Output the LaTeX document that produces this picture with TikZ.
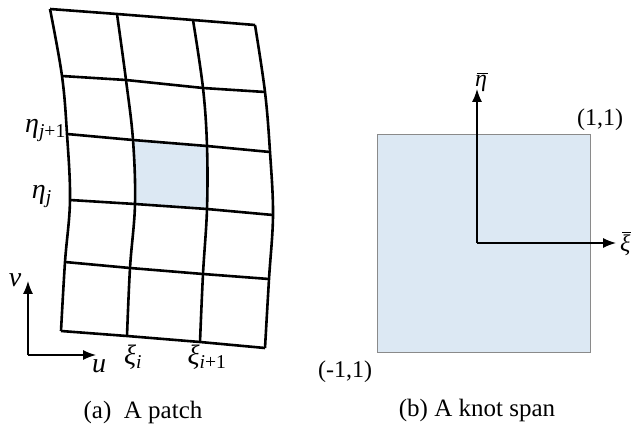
\documentclass[tikz,border=0pt]{standalone}
\usepackage{fontspec}
\setmainfont{Liberation Serif}
\usetikzlibrary{arrows.meta}
\definecolor{cellblue}{HTML}{DCE8F3}
\definecolor{edgegray}{HTML}{8A8A8A}
\tikzset{
  patchline/.style={line width=2.6pt, black, line join=round},
  axisarrow/.style={line width=1.4pt, black, -{Latex[length=13pt,width=10pt]}},
  barline/.style={line width=1pt, black},
  lbl/.style={font=\fontsize{24}{28}\selectfont, inner sep=0pt},
  mlbl/.style={font=\fontsize{28}{32}\selectfont, inner sep=0pt},
  captext/.style={font=\fontsize{25}{29}\selectfont, inner sep=0pt},
}
\newcommand\gi[1]{{\itshape #1}}
\begin{document}
\begin{tikzpicture}[x=1pt,y=-1pt]
\useasboundingbox (0,0) rectangle (631,427);
% ---------------- (a) patch ----------------
% shaded cell
\fill[cellblue] (133,140) -- (207,146) -- (207,209) -- (135,204) -- cycle;
% columns
\draw[patchline] plot[smooth, tension=0.6] coordinates {(50,9) (62,76) (67,134) (70,200) (65,262) (61,331)};
\draw[patchline] plot[smooth, tension=0.6] coordinates {(117,14) (126,80) (133,140) (135,204) (130,268) (127,336)};
\draw[patchline] plot[smooth, tension=0.6] coordinates {(193,20) (203,88) (207,146) (207,209) (203,274) (200,342)};
\draw[patchline] plot[smooth, tension=0.6] coordinates {(255,25) (265,92) (270,152) (273,215) (269,279) (265,348)};
% rows
\draw[patchline] (50,9) -- (117,14) -- (193,20) -- (255,25);
\draw[patchline] (62,76) -- (126,80) -- (203,88) -- (265,92);
\draw[patchline] (67,134) -- (133,140) -- (207,146) -- (270,152);
\draw[patchline] (70,200) -- (135,204) -- (207,209) -- (273,215);
\draw[patchline] (65,262) -- (130,268) -- (203,274) -- (269,279);
\draw[patchline] (61,331) -- (127,336) -- (200,342) -- (265,348);
% labels
\node[mlbl, anchor=base east] (etaj1) at (66,133) {\gi{η}\textsubscript{\itshape j\upshape +1}};
\node[mlbl, anchor=base east] (etaj) at (52,199) {\gi{η}\textsubscript{\itshape j}};
\node[mlbl, anchor=base] (xii) at (133,364) {\gi{ξ}\textsubscript{\itshape i}};
\node[mlbl, anchor=base] (xii1) at (207,364) {\gi{ξ}\textsubscript{\itshape i\upshape +1}};
% u-v axes
\coordinate (uvo) at (28,355);
\coordinate (vtip) at (28,281);
\coordinate (utip) at (96,355);
\draw[axisarrow] (uvo) -- (vtip);
\draw[axisarrow] (uvo) -- (utip);
\node[mlbl, anchor=base] (vl) at (15,287) {\gi{v}};
\node[mlbl, anchor=base] (ul) at (99,372) {\gi{u}};
\node[captext] (capa) at (143,412) {(a)\ \ A patch};
% ---------------- (b) knot span ----------------
\node[draw=edgegray, line width=1.3pt, fill=cellblue, minimum width=213pt, minimum height=218pt, inner sep=0pt, anchor=north west] (span) at (377,134) {};
\coordinate (o) at (477,243);
\coordinate (etatip) at (477,89);
\coordinate (xitip) at (616,243);
\draw[axisarrow] (o) -- (etatip);
\draw[axisarrow] (o) -- (xitip);
\node[lbl, anchor=base] (etabar) at (481,87) {\gi{η}};
\draw[barline] ([xshift=2pt,yshift=2pt]etabar.north west) -- ([xshift=1pt,yshift=2pt]etabar.north east);
\node[lbl, anchor=base west] (xibar) at (620,252) {\gi{ξ}};
\draw[barline] ([xshift=2pt,yshift=3pt]xibar.north west) -- ([xshift=1pt,yshift=3pt]xibar.north east);
\node[lbl] (c11) at (600,120) {(1,1)};
\node[lbl] (cm11) at (345,372) {(-1,1)};
\node[captext] (capb) at (477,410) {(b) A knot span};
\end{tikzpicture}
\end{document}
